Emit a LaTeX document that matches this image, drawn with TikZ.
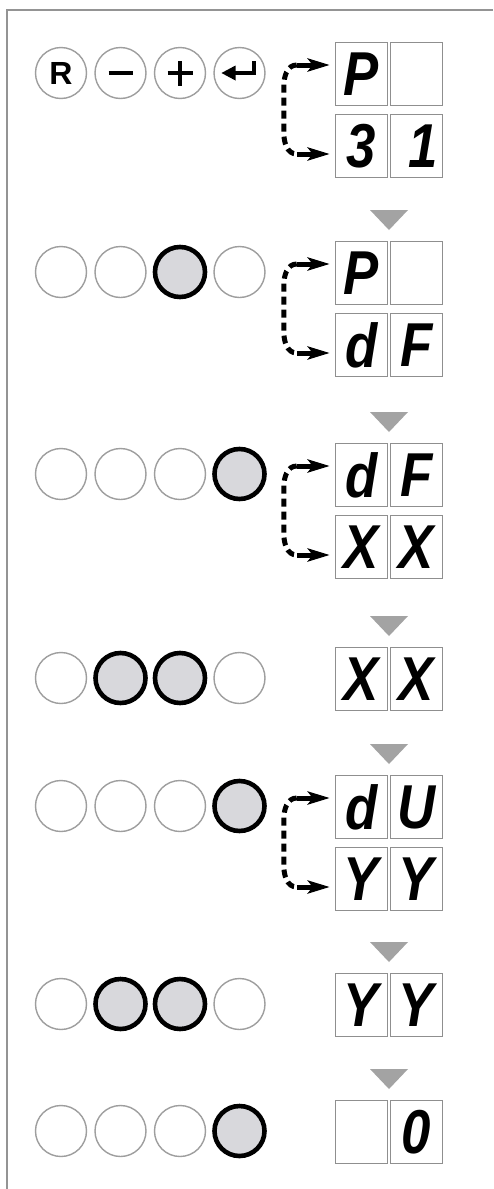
\documentclass[tikz,border=0pt]{standalone}
\usepackage{fontspec}
\setmainfont{Liberation Sans}
\newfontfamily\segfont{Liberation Sans}[FakeStretch=0.85]
\usetikzlibrary{arrows.meta}
\definecolor{framegray}{gray}{0.58}
\definecolor{ringgray}{gray}{0.62}
\definecolor{onfill}{RGB}{216,216,220}
\definecolor{trigray}{gray}{0.64}
\definecolor{cellgray}{gray}{0.56}
\tikzset{
  ledoff/.style={circle, draw=ringgray, line width=1.4pt, minimum size=51pt, inner sep=0pt},
  ledon/.style={circle, draw=black, fill=onfill, line width=4.6pt, minimum size=50pt, inner sep=0pt},
  dispcell/.style={draw=cellgray, line width=1.5pt, minimum width=52pt, minimum height=63pt, inner sep=0pt,
    font=\segfont\bfseries\itshape\fontsize{62}{62}\selectfont},
  pointerfill/.style={fill=trigray, draw=none},
  swapdash/.style={line width=5pt, dash pattern=on 8pt off 5pt},
  swaptip/.style={line width=5pt, -{Stealth[length=22pt,width=13pt,inset=5pt]}},
  symline/.style={line width=4.8pt}
}
\newcommand\rkleds[6]{%
  \node[#3] (#1a) at (61,#2) {};
  \node[#4] (#1b) at (120.5,#2) {};
  \node[#5] (#1c) at (180,#2) {};
  \node[#6] (#1d) at (239.5,#2) {};
}
\newcommand\rkpair[6]{%
  \node[dispcell] (#1tl) at (361.5,{#2+32}) {#3};
  \node[dispcell] (#1tr) at (416.5,{#2+32}) {#4};
  \node[dispcell] (#1bl) at (361.5,{#2+104}) {#5};
  \node[dispcell] (#1br) at (416.5,{#2+104}) {#6};
  \coordinate (#1ua) at ([xshift=-5pt,yshift=9pt]#1tl.west);
  \coordinate (#1la) at ([xshift=-5pt,yshift=-8pt]#1bl.west);
  \coordinate (#1ub) at ([xshift=-33pt]#1ua);
  \coordinate (#1lb) at ([xshift=-33pt]#1la);
  \draw[swapdash] (#1ub) to[out=180,in=90] ([xshift=-13pt,yshift=-22pt]#1ub)
     -- ([xshift=-13pt,yshift=22pt]#1lb) to[out=-90,in=180] (#1lb);
  \draw[swaptip] (#1ub) -- (#1ua);
  \draw[swaptip] (#1lb) -- (#1la);
}
\newcommand\rksingle[4]{%
  \node[dispcell] (#1tl) at (361.5,{#2+32}) {#3};
  \node[dispcell] (#1tr) at (416.5,{#2+32}) {#4};
}
\newcommand\rktri[1]{%
  \fill[pointerfill] (370,{#1-31}) -- (408,{#1-31}) -- (389,{#1-11}) -- cycle;
}
\begin{document}
\begin{tikzpicture}[x=1pt,y=-1pt]
\useasboundingbox (0,0) rectangle (493,1189);
\fill[white] (0,0) rectangle (493,1189);
% frame
\draw[framegray, line width=2.2pt] (7,1189) -- (7,10) -- (493,10);

% row 1: buttons
\node[ledoff, font=\bfseries\fontsize{32}{32}\selectfont] (k1) at (61,73) {R};
\node[ledoff] (k2) at (120.5,73) {};
\node[ledoff] (k3) at (180,73) {};
\node[ledoff] (k4) at (239.5,73) {};
\draw[symline] ([xshift=-12pt]k2.center) -- ([xshift=12pt]k2.center);
\draw[symline] ([xshift=-12.5pt]k3.center) -- ([xshift=12.5pt]k3.center);
\draw[symline] ([yshift=-12.5pt]k3.center) -- ([yshift=12.5pt]k3.center);
\fill ([xshift=-18pt]k4.center) -- ([xshift=-4pt,yshift=7.5pt]k4.center) -- ([xshift=-4pt,yshift=-7.5pt]k4.center) -- cycle;
\draw[line width=4.2pt, line join=miter] ([xshift=-6pt]k4.center) -- ([xshift=14.5pt]k4.center) -- ([xshift=14.5pt,yshift=12pt]k4.center);
\rkpair{d1}{42}{P}{}{3}{\hspace*{14pt}1}

% row 2
\rktri{241}
\rkleds{r2}{272}{ledoff}{ledoff}{ledon}{ledoff}
\rkpair{d2}{241}{P}{}{d}{F}

% row 3
\rktri{443}
\rkleds{r3}{474}{ledoff}{ledoff}{ledoff}{ledon}
\rkpair{d3}{443}{d}{F}{X}{X}

% row 4
\rktri{647}
\rkleds{r4}{678}{ledoff}{ledon}{ledon}{ledoff}
\rksingle{d4}{647}{X}{X}

% row 5
\rktri{775}
\rkleds{r5}{806}{ledoff}{ledoff}{ledoff}{ledon}
\rkpair{d5}{775}{d}{U}{Y}{Y}

% row 6
\rktri{973}
\rkleds{r6}{1004}{ledoff}{ledon}{ledon}{ledoff}
\rksingle{d6}{973}{Y}{Y}

% row 7
\rktri{1100}
\rkleds{r7}{1131}{ledoff}{ledoff}{ledoff}{ledon}
\rksingle{d7}{1100}{}{0}
\end{tikzpicture}
\end{document}
